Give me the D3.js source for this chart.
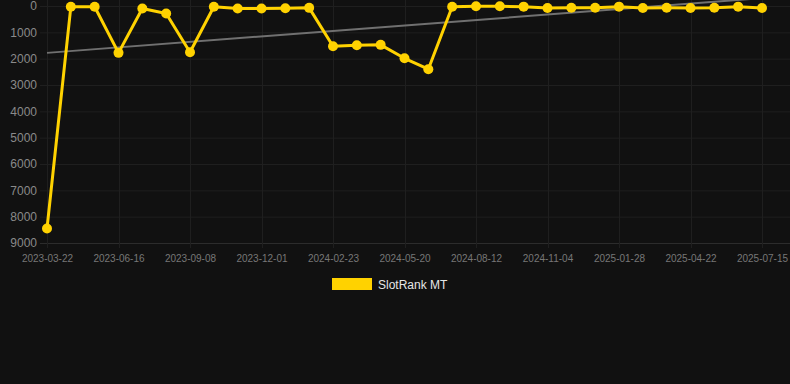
<!DOCTYPE html>
<html>
<head>
<meta charset="utf-8">
<script src="https://cdn.jsdelivr.net/npm/d3@7"></script>
<style>
    body { margin: 0; background: #111111; }
    svg { display: block; font-family: "Liberation Sans", Arial, sans-serif; }
</style>
</head>
<body>
<script>
// Dates of each measurement (only every third one is labelled)
var dates = [
    "2023-03-22", "2023-04-19", "2023-05-19", "2023-06-16", "2023-07-14", "2023-08-11",
    "2023-09-08", "2023-10-06", "2023-11-03", "2023-12-01", "2023-12-29", "2024-01-26",
    "2024-02-23", "2024-03-22", "2024-04-22", "2024-05-20", "2024-06-17", "2024-07-15",
    "2024-08-12", "2024-09-09", "2024-10-07", "2024-11-04", "2024-12-02", "2024-12-30",
    "2025-01-28", "2025-02-24", "2025-03-24", "2025-04-22", "2025-05-20", "2025-06-17",
    "2025-07-15"
];

// SlotRank MT values
var ranks = [
    8450, 30, 30, 1780, 95, 285, 1755, 30, 95, 95, 85, 70,
    1530, 1490, 1475, 1985, 2400, 30, 10, 10, 25, 75, 65, 65,
    25, 75, 65, 75, 65, 25, 75
];

// Trend line, value at the first and last date
var trend = [1780, -300];

var yTicks = [0, 1000, 2000, 3000, 4000, 5000, 6000, 7000, 8000, 9000];
var seriesName = "SlotRank MT";

window.onload = function() {
    drawChart();
};

function drawChart() {
    var svgWidth = 790;
    var svgHeight = 384;

    var plot = { left: 40, right: 790, top: 6, bottom: 243 };

    var svg = d3.select("body").append("svg")
        .attr("width", svgWidth)
        .attr("height", svgHeight);

    svg.append("rect")
        .attr("width", svgWidth)
        .attr("height", svgHeight)
        .attr("fill", "#111111");

    var xScale = d3.scalePoint()
        .domain(dates)
        .range([47, 762]);

    var yScale = d3.scaleLinear()
        .domain([0, 9000])
        .range([plot.top, plot.bottom]);

    var labelled = dates.filter(function(d, i) { return i % 3 === 0; });

    // Horizontal gridlines
    svg.append("g")
        .selectAll("line")
        .data(yTicks)
        .enter()
        .append("line")
        .attr("x1", plot.left)
        .attr("x2", plot.right)
        .attr("y1", function(d) { return yScale(d) + 0.5; })
        .attr("y2", function(d) { return yScale(d) + 0.5; })
        .attr("stroke", function(d) { return d === 9000 ? "#2c2c2c" : "#1f1f1f"; })
        .attr("stroke-width", 1);

    // Vertical gridlines
    svg.append("g")
        .selectAll("line")
        .data(labelled)
        .enter()
        .append("line")
        .attr("x1", function(d) { return Math.round(xScale(d)) + 0.5; })
        .attr("x2", function(d) { return Math.round(xScale(d)) + 0.5; })
        .attr("y1", plot.top - 6)
        .attr("y2", plot.bottom + 5)
        .attr("stroke", "#1f1f1f")
        .attr("stroke-width", 1);

    // Y axis labels
    var yAxis = svg.append("g")
        .attr("transform", "translate(37, 0)")
        .call(d3.axisLeft(yScale).tickValues(yTicks).tickSize(0).tickPadding(0).tickFormat(d3.format("d")));
    yAxis.select(".domain").remove();
    yAxis.selectAll("text")
        .attr("fill", "#8a8a8a")
        .style("font-size", "12px")
        .style("font-family", "Liberation Sans, Arial, sans-serif");

    // X axis labels
    var xAxis = svg.append("g")
        .attr("transform", `translate(0, ${plot.bottom + 12})`)
        .call(d3.axisBottom(xScale).tickValues(labelled).tickSize(0).tickPadding(0));
    xAxis.select(".domain").remove();
    xAxis.selectAll("text")
        .attr("fill", "#777777")
        .style("font-size", "10px")
        .style("font-family", "Liberation Sans, Arial, sans-serif");

    // Trend line
    svg.append("line")
        .attr("x1", xScale(dates[0]))
        .attr("y1", yScale(trend[0]))
        .attr("x2", xScale(dates[dates.length - 1]))
        .attr("y2", yScale(trend[1]))
        .attr("stroke", "#707070")
        .attr("stroke-width", 2);

    // Series line
    var line = d3.line()
        .x(function(d, i) { return xScale(dates[i]); })
        .y(function(d) { return yScale(d); });

    svg.append("path")
        .datum(ranks)
        .attr("d", line)
        .attr("fill", "none")
        .attr("stroke", "#ffd200")
        .attr("stroke-width", 3)
        .attr("stroke-linejoin", "round");

    svg.append("g")
        .selectAll("circle")
        .data(ranks)
        .enter()
        .append("circle")
        .attr("cx", function(d, i) { return xScale(dates[i]); })
        .attr("cy", function(d) { return yScale(d); })
        .attr("r", 5)
        .attr("fill", "#ffd200");

    // Legend
    var legend = svg.append("g")
        .attr("transform", "translate(332, 278)");

    legend.append("rect")
        .attr("width", 40)
        .attr("height", 12)
        .attr("fill", "#ffd200");

    legend.append("text")
        .attr("x", 46)
        .attr("y", 7)
        .attr("dy", "0.35em")
        .attr("fill", "#e6e6e6")
        .style("font-size", "12px")
        .text(seriesName);
}
</script>
</body>
</html>
